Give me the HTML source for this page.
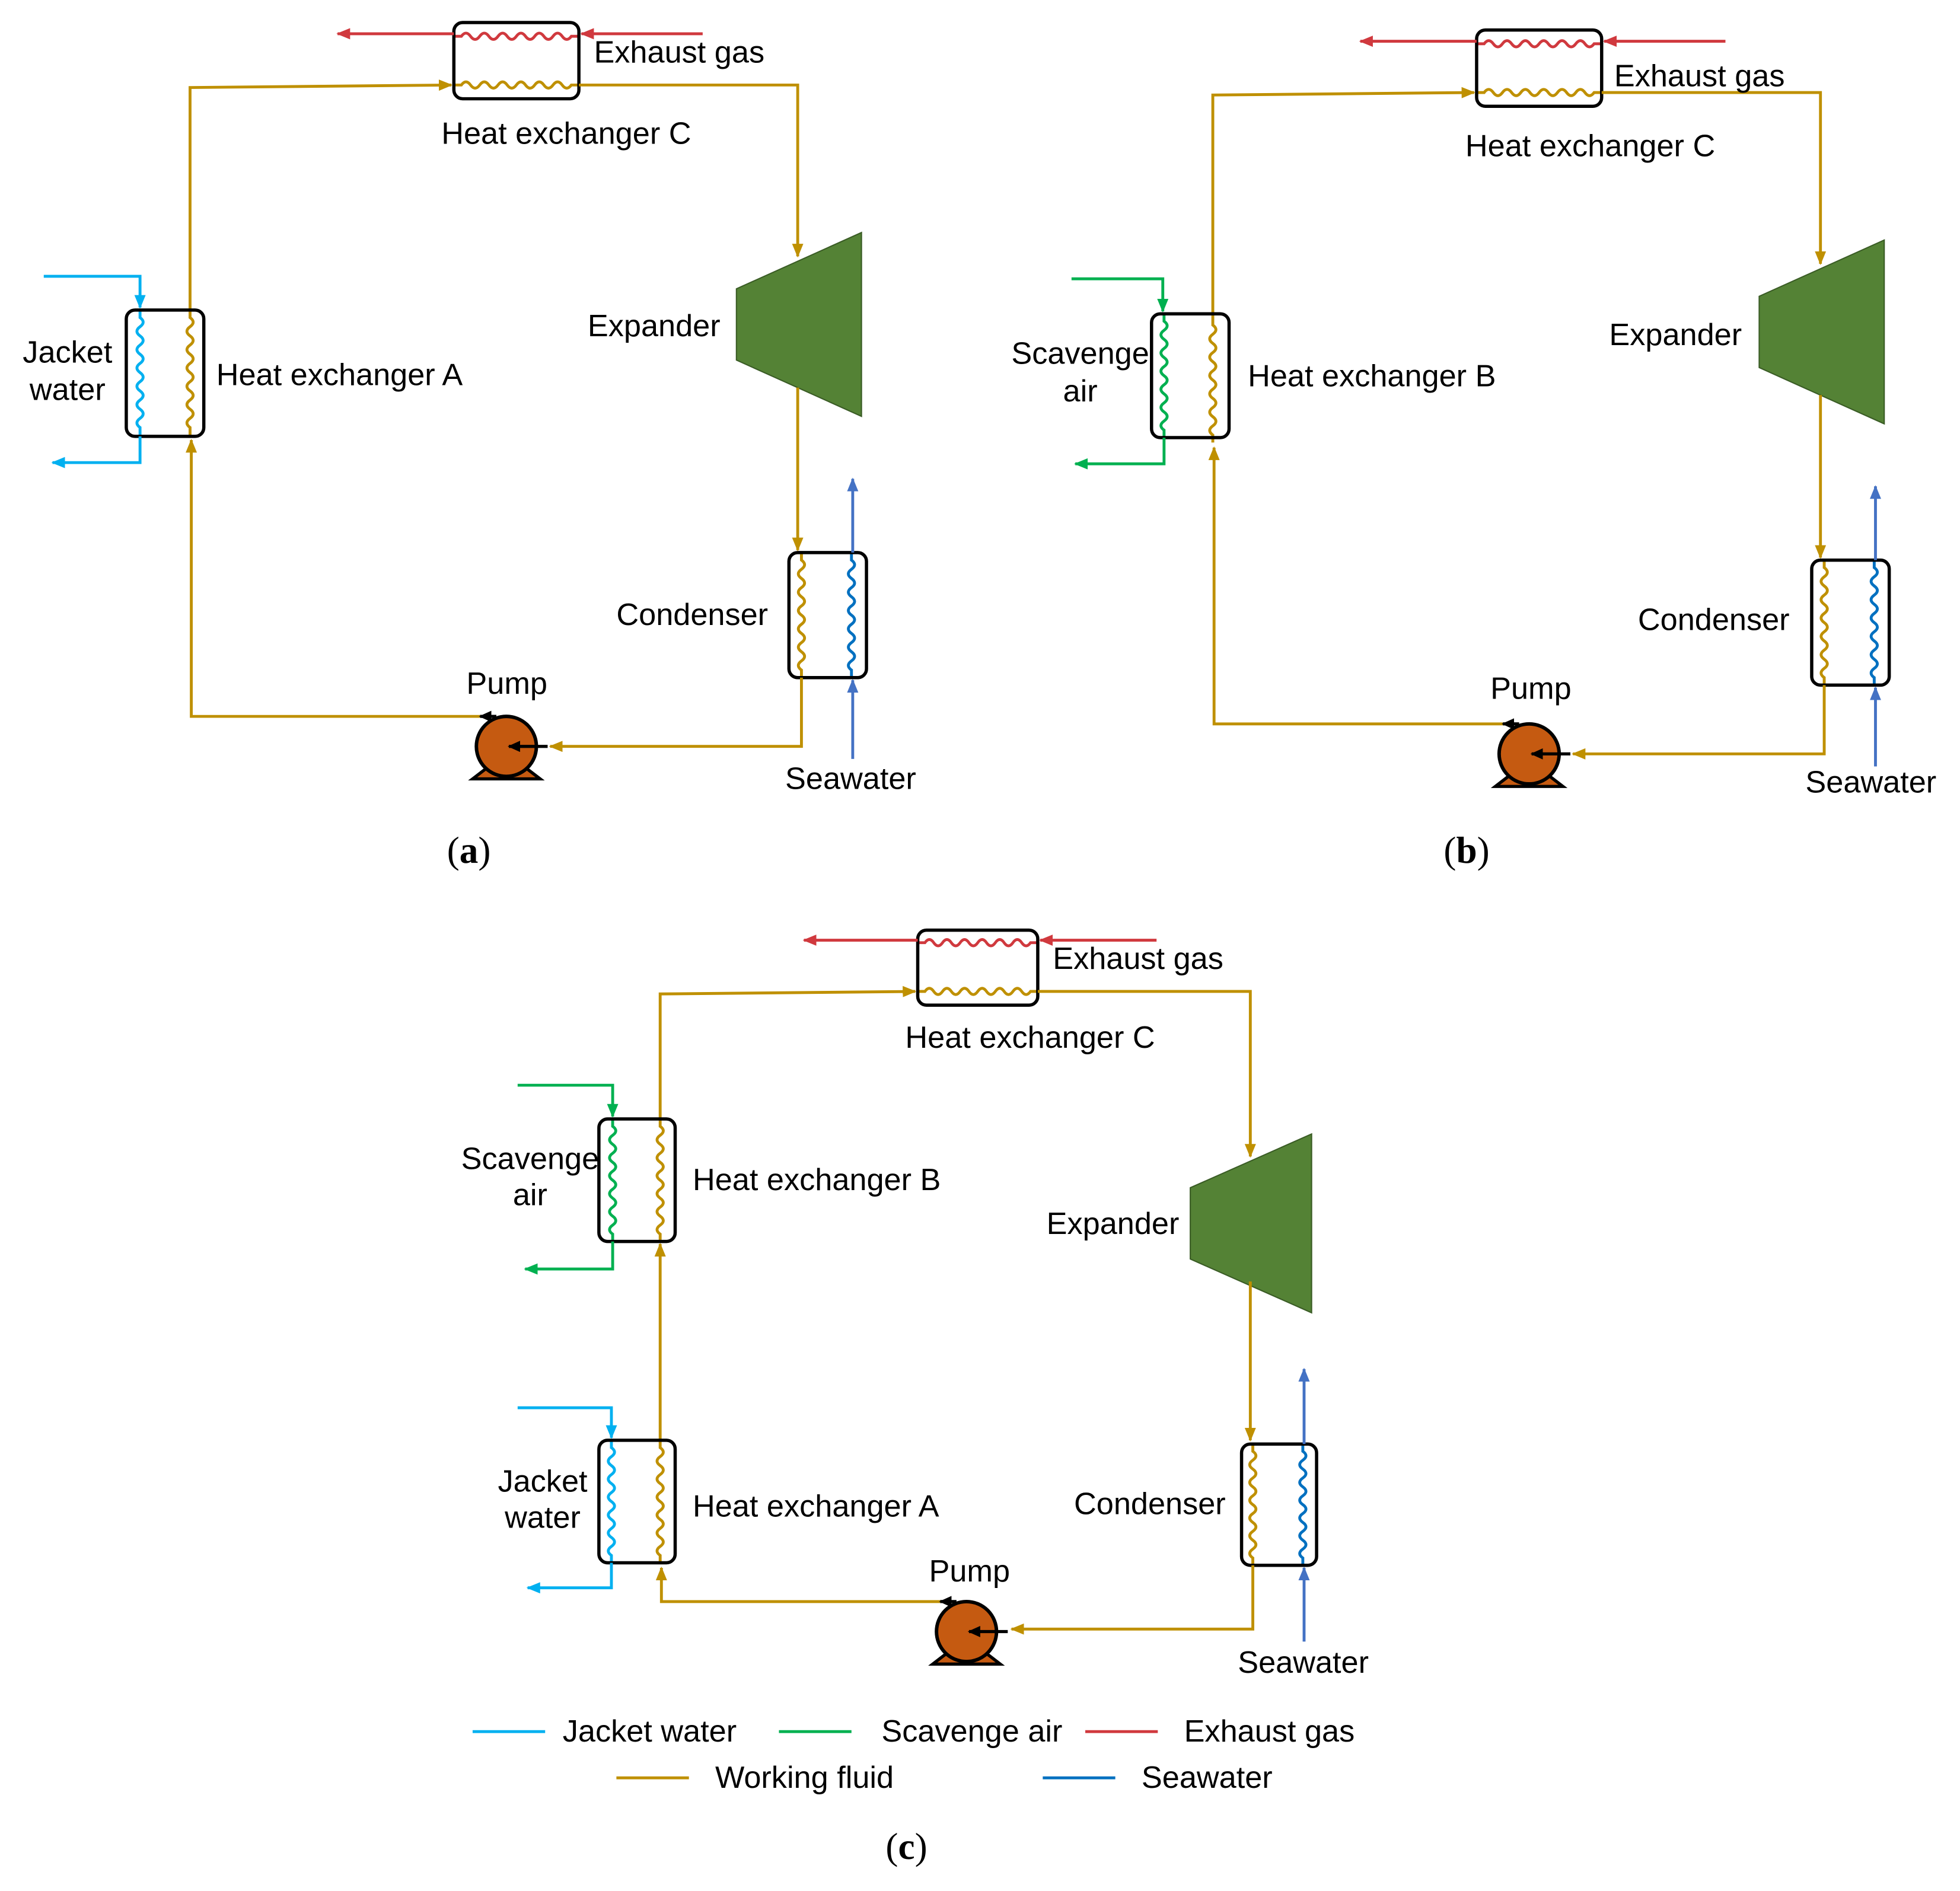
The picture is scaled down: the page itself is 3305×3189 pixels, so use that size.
<!DOCTYPE html>
<html><head><meta charset="utf-8"><style>
html,body{margin:0;padding:0;background:#fff}
svg{display:block}
text{font-family:"Liberation Sans",sans-serif;font-size:24.8px;fill:#000}
.cap{font-family:"Liberation Serif",serif;font-size:30px}
</style></head><body>
<svg width="3305" height="3189" viewBox="0 0 1567.6 1512.5" preserveAspectRatio="none" xmlns="http://www.w3.org/2000/svg">
<defs>
<marker id="mg" markerWidth="11" markerHeight="9" refX="10" refY="4.5" orient="auto" markerUnits="userSpaceOnUse"><path d="M0,0L11,4.5L0,9z" fill="#BF9000"/></marker>
<marker id="mr" markerWidth="11" markerHeight="9" refX="10" refY="4.5" orient="auto" markerUnits="userSpaceOnUse"><path d="M0,0L11,4.5L0,9z" fill="#D0393E"/></marker>
<marker id="mc" markerWidth="11" markerHeight="9" refX="10" refY="4.5" orient="auto" markerUnits="userSpaceOnUse"><path d="M0,0L11,4.5L0,9z" fill="#00B0F0"/></marker>
<marker id="mgr" markerWidth="11" markerHeight="9" refX="10" refY="4.5" orient="auto" markerUnits="userSpaceOnUse"><path d="M0,0L11,4.5L0,9z" fill="#00B050"/></marker>
<marker id="mb" markerWidth="11" markerHeight="9" refX="10" refY="4.5" orient="auto" markerUnits="userSpaceOnUse"><path d="M0,0L11,4.5L0,9z" fill="#4472C4"/></marker>
<marker id="mk" markerWidth="10" markerHeight="9" refX="9" refY="4.5" orient="auto" markerUnits="userSpaceOnUse"><path d="M0,0L10,4.5L0,9z" fill="#000"/></marker>
<path id="wv" fill="none" d="M0,0v6q5,3.67 0,7.33t0,7.33t0,7.33t0,7.33t0,7.33t0,7.33t0,7.33t0,7.33t0,7.33t0,7.33t0,7.33t0,7.33v6"/>
<g id="pump">
<path d="M-27,26L-14,16H14L27,26Z" fill="#C55A11" stroke="#000" stroke-width="2.5" stroke-linejoin="miter"/>
<circle r="24" fill="#C55A11" stroke="#000" stroke-width="2.8"/>
<line x1="33" y1="0" x2="2" y2="0" stroke="#000" stroke-width="2.5" marker-end="url(#mk)"/>
<line x1="-8" y1="-24" x2="-21" y2="-24" stroke="#000" stroke-width="2.5" marker-end="url(#mk)"/>
</g>
</defs>

<!-- ============ Panel (a) ============ -->
<g id="pa" fill="none" stroke-width="2.3">
<use href="#wv" transform="translate(363,29) rotate(-90)" stroke="#D0393E"/>
<use href="#wv" transform="translate(363,68) rotate(-90)" stroke="#BF9000"/>
<rect x="363" y="18" width="100" height="61" rx="7" stroke="#000" stroke-width="2.6"/>
<line x1="562" y1="27" x2="465" y2="27" stroke="#D0393E" marker-end="url(#mr)"/>
<line x1="363" y1="27" x2="270" y2="27" stroke="#D0393E" marker-end="url(#mr)"/>
<polyline points="152,248 152,70 361,68" stroke="#BF9000" marker-end="url(#mg)"/>
<polyline points="463,68 638,68 638,205" stroke="#BF9000" marker-end="url(#mg)"/>
<polygon points="589,231 689,186 689,333 589,288" fill="#548235" stroke="#3a5c25" stroke-width="1"/>
<line x1="638" y1="310" x2="638" y2="440" stroke="#BF9000" marker-end="url(#mg)"/>
<use href="#wv" transform="translate(641,442)" stroke="#BF9000"/>
<use href="#wv" transform="translate(681,442)" stroke="#0070C0"/>
<rect x="631" y="442" width="62" height="100" rx="7" stroke="#000" stroke-width="2.6"/>
<line x1="682" y1="607" x2="682" y2="544" stroke="#4472C4" marker-end="url(#mb)"/>
<line x1="682" y1="442" x2="682" y2="383" stroke="#4472C4" marker-end="url(#mb)"/>
<polyline points="641,542 641,597 440,597" stroke="#BF9000" marker-end="url(#mg)"/>
<polyline points="384,573 153,573 153,352" stroke="#BF9000" marker-end="url(#mg)"/>
<use href="#pump" transform="translate(405,597)"/>
<use href="#wv" transform="translate(152,248)" stroke="#BF9000"/>
</g>
<g fill="none" stroke-width="2.3">
<use href="#wv" transform="translate(112,248)" stroke="#00B0F0"/>
<rect x="101" y="248" width="62" height="101" rx="7" stroke="#000" stroke-width="2.6"/>
<polyline points="35,221 112,221 112,246" stroke="#00B0F0" marker-end="url(#mc)"/>
<polyline points="112,349 112,370 42,370" stroke="#00B0F0" marker-end="url(#mc)"/>
</g>
<text x="475" y="50">Exhaust gas</text>
<text x="353" y="115">Heat exchanger C</text>
<text x="470" y="269">Expander</text>
<text x="173" y="308">Heat exchanger A</text>
<text x="54" y="290" text-anchor="middle">Jacket</text>
<text x="54" y="320" text-anchor="middle">water</text>
<text x="493" y="500">Condenser</text>
<text x="373" y="555">Pump</text>
<text x="628" y="631">Seawater</text>
<text class="cap" x="375" y="690" text-anchor="middle">(<tspan font-weight="bold">a</tspan>)</text>

<!-- ============ Panel (b) ============ -->
<use href="#pa" transform="translate(818,6)"/>
<g fill="none" stroke-width="2.3">
<use href="#wv" transform="translate(931,251) scale(1,0.99)" stroke="#00B050"/>
<rect x="921" y="251" width="62" height="99" rx="7" stroke="#000" stroke-width="2.6"/>
<polyline points="857,223 930,223 930,249" stroke="#00B050" marker-end="url(#mgr)"/>
<polyline points="931,350 931,371 860,371" stroke="#00B050" marker-end="url(#mgr)"/>
</g>
<text x="1291" y="69">Exhaust gas</text>
<text x="1172" y="125">Heat exchanger C</text>
<text x="1287" y="276">Expander</text>
<text x="998" y="309">Heat exchanger B</text>
<text x="864" y="291" text-anchor="middle">Scavenge</text>
<text x="864" y="321" text-anchor="middle">air</text>
<text x="1310" y="504">Condenser</text>
<text x="1192" y="559">Pump</text>
<text x="1444" y="634">Seawater</text>
<text class="cap" x="1173" y="690" text-anchor="middle">(<tspan font-weight="bold">b</tspan>)</text>

<!-- ============ Panel (c) ============ -->
<g fill="none" stroke-width="2.3">
<use href="#wv" transform="translate(734,754) scale(0.96,1) rotate(-90)" stroke="#D0393E"/>
<use href="#wv" transform="translate(734,793) scale(0.96,1) rotate(-90)" stroke="#BF9000"/>
<rect x="734" y="744" width="96" height="60" rx="7" stroke="#000" stroke-width="2.6"/>
<line x1="925" y1="752" x2="832" y2="752" stroke="#D0393E" marker-end="url(#mr)"/>
<line x1="734" y1="752" x2="643" y2="752" stroke="#D0393E" marker-end="url(#mr)"/>
<polyline points="528,895 528,795 732,793" stroke="#BF9000" marker-end="url(#mg)"/>
<polyline points="830,793 1000,793 1000,925" stroke="#BF9000" marker-end="url(#mg)"/>
<polygon points="952,950 1049,907 1049,1050 952,1007" fill="#548235" stroke="#3a5c25" stroke-width="1"/>
<line x1="1000" y1="1025" x2="1000" y2="1152" stroke="#BF9000" marker-end="url(#mg)"/>
<use href="#wv" transform="translate(1002,1155) scale(1,0.97)" stroke="#BF9000"/>
<use href="#wv" transform="translate(1042,1155) scale(1,0.97)" stroke="#0070C0"/>
<rect x="993" y="1155" width="60" height="97" rx="7" stroke="#000" stroke-width="2.6"/>
<line x1="1043" y1="1313" x2="1043" y2="1254" stroke="#4472C4" marker-end="url(#mb)"/>
<line x1="1043" y1="1155" x2="1043" y2="1095" stroke="#4472C4" marker-end="url(#mb)"/>
<polyline points="1002,1252 1002,1303 809,1303" stroke="#BF9000" marker-end="url(#mg)"/>
<polyline points="752,1281 529,1281 529,1254" stroke="#BF9000" marker-end="url(#mg)"/>
<line x1="528" y1="1152" x2="528" y2="995" stroke="#BF9000" marker-end="url(#mg)"/>
<use href="#wv" transform="translate(490,895) scale(1,0.98)" stroke="#00B050"/>
<use href="#wv" transform="translate(528,895) scale(1,0.98)" stroke="#BF9000"/>
<rect x="479" y="895" width="61" height="98" rx="7" stroke="#000" stroke-width="2.6"/>
<polyline points="414,868 490,868 490,893" stroke="#00B050" marker-end="url(#mgr)"/>
<polyline points="490,993 490,1015 420,1015" stroke="#00B050" marker-end="url(#mgr)"/>
<use href="#wv" transform="translate(489,1152) scale(1,0.98)" stroke="#00B0F0"/>
<use href="#wv" transform="translate(528,1152) scale(1,0.98)" stroke="#BF9000"/>
<rect x="479" y="1152" width="61" height="98" rx="7" stroke="#000" stroke-width="2.6"/>
<polyline points="414,1126 489,1126 489,1150" stroke="#00B0F0" marker-end="url(#mc)"/>
<polyline points="489,1250 489,1270 422,1270" stroke="#00B0F0" marker-end="url(#mc)"/>
<line x1="378" y1="1385" x2="436" y2="1385" stroke="#00B0F0"/>
<line x1="623" y1="1385" x2="681" y2="1385" stroke="#00B050"/>
<line x1="868" y1="1385" x2="926" y2="1385" stroke="#D0393E"/>
<line x1="493" y1="1422" x2="551" y2="1422" stroke="#BF9000"/>
<line x1="834" y1="1422" x2="892" y2="1422" stroke="#0070C0"/>
</g>
<use href="#pump" transform="translate(773,1305)"/>
<text x="842" y="775">Exhaust gas</text>
<text x="724" y="838">Heat exchanger C</text>
<text x="837" y="987">Expander</text>
<text x="554" y="952">Heat exchanger B</text>
<text x="424" y="935" text-anchor="middle">Scavenge</text>
<text x="424" y="964" text-anchor="middle">air</text>
<text x="434" y="1193" text-anchor="middle">Jacket</text>
<text x="434" y="1222" text-anchor="middle">water</text>
<text x="554" y="1213">Heat exchanger A</text>
<text x="859" y="1211">Condenser</text>
<text x="743" y="1265">Pump</text>
<text x="990" y="1338">Seawater</text>
<text x="450" y="1393">Jacket water</text>
<text x="705" y="1393">Scavenge air</text>
<text x="947" y="1393">Exhaust gas</text>
<text x="572" y="1430">Working fluid</text>
<text x="913" y="1430">Seawater</text>
<text class="cap" x="725" y="1487" text-anchor="middle">(<tspan font-weight="bold">c</tspan>)</text>
</svg>
</body></html>
